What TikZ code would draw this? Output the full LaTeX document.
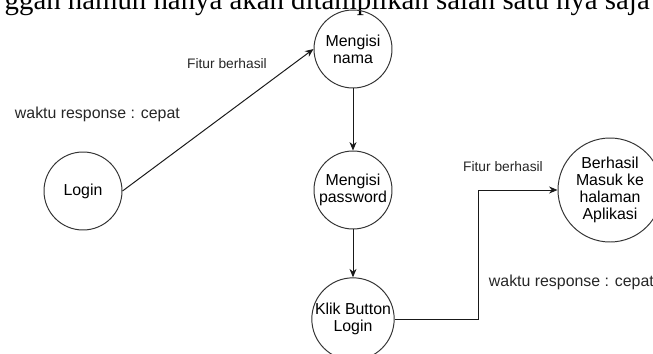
\documentclass[tikz,border=0pt]{standalone}
\usepackage{fontspec}
\setmainfont{Liberation Sans}
\newfontfamily\bodyserif{Liberation Serif}
\usetikzlibrary{arrows.meta,positioning}

\begin{document}
\begin{tikzpicture}[
  font=\fontsize{11.3}{12.2}\selectfont,
  >={Stealth[length=6pt,width=5pt]},
  state/.style={
    circle, draw=black!80, line width=0.7pt,
    minimum size=1.95cm, inner sep=0pt,
    align=center
  },
  bigstate/.style={
    state, minimum size=2.6cm
  },
  arr/.style={->, line width=0.7pt, black!90},
  lbl/.style={font=\fontsize{9.8}{11}\selectfont, black!85},
  note/.style={font=\fontsize{11.3}{12.2}\selectfont, black!85, anchor=west}
]

\useasboundingbox (0,0) rectangle (16.325,-8.825);

%% ── Clipped text line at the top ───────────────────────────────────
\node[font=\bodyserif\fontsize{20.5}{22}\selectfont, anchor=base east,
      inner sep=0pt] (caption) at (16.25,-0.24)
  {ggan namun hanya akan ditampilkan salah satu nya saja};

%% ── States ──────────────────────────────────────────────────────────
\node[state] (login)    at (2.075,-4.775) {Login};
\node[state] (nama)     at (8.825,-1.225) {Mengisi\\nama};
\node[state] (password) at (8.825,-4.75)  {Mengisi\\password};
\node[state] (klik)     at (8.825,-7.975) {Klik Button\\Login};
\node[bigstate] (masuk) at (15.25,-4.75)  {Berhasil\\Masuk ke\\halaman\\Aplikasi};

%% ── Transitions ─────────────────────────────────────────────────────
\draw[arr] (login.east) -- (nama.west);
\draw[arr] (nama) -- (password);
\draw[arr] (password) -- (klik);
\draw[arr] (klik.east) -- ++(2.1,0) |- (masuk.west);

%% ── Labels ──────────────────────────────────────────────────────────
\node[lbl]  (fitur1)  at (5.675,-1.6)   {Fitur berhasil};
\node[note] (waktu1)  at (0.25,-2.85)   {waktu response : cepat};
\node[lbl]  (fitur2)  at (12.575,-4.175) {Fitur berhasil};
\node[note] (waktu2)  at (12.1,-7.05)   {waktu response : cepat};

\end{tikzpicture}
\end{document}
